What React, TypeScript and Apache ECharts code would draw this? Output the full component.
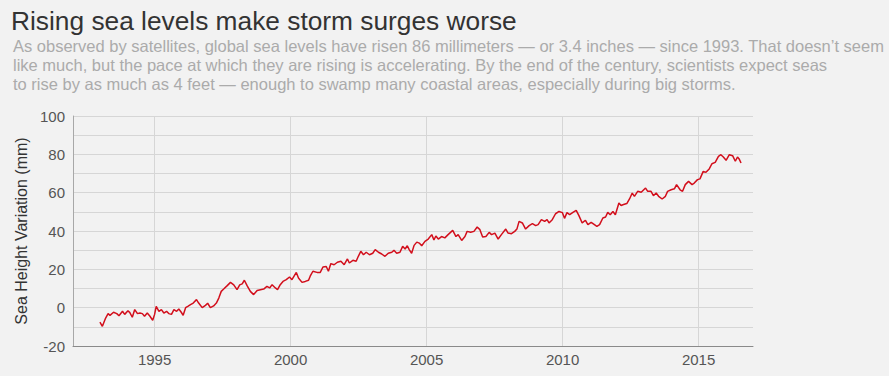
import React, { useEffect, useRef } from "react";
import * as echarts from "echarts";

const titleText = "Rising sea levels make storm surges worse";
const subtitleLines = [
  "As observed by satellites, global sea levels have risen 86 millimeters — or 3.4 inches — since 1993. That doesn’t seem",
  "like much, but the pace at which they are rising is accelerating. By the end of the century, scientists expect seas",
  "to rise by as much as 4 feet — enough to swamp many coastal areas, especially during big storms.",
];
const yAxisName = "Sea Height Variation (mm)";
const xTickYears = [1995, 2000, 2005, 2010, 2015];

const years = [
  1992.99, 1993.08, 1993.2, 1993.29, 1993.36, 1993.49, 1993.61, 1993.69, 1993.82, 1993.9,
  1994.02, 1994.09, 1994.18, 1994.27, 1994.37, 1994.46, 1994.55, 1994.63, 1994.73, 1994.83,
  1994.93, 1995.0, 1995.06, 1995.16, 1995.25, 1995.34, 1995.44, 1995.52, 1995.62, 1995.71,
  1995.81, 1995.89, 1995.98, 1996.05, 1996.14, 1996.22, 1996.32, 1996.42, 1996.54, 1996.62,
  1996.75, 1996.87, 1996.95, 1997.05, 1997.17, 1997.27, 1997.36, 1997.45, 1997.54, 1997.67,
  1997.79, 1997.91, 1998.03, 1998.13, 1998.22, 1998.3, 1998.4, 1998.52, 1998.64, 1998.77,
  1998.89, 1999.01, 1999.13, 1999.23, 1999.32, 1999.44, 1999.52, 1999.62, 1999.72, 1999.84,
  1999.96, 2000.05, 2000.21, 2000.29, 2000.42, 2000.54, 2000.66, 2000.72, 2000.82, 2000.97,
  2001.09, 2001.19, 2001.31, 2001.39, 2001.48, 2001.6, 2001.72, 2001.85, 2001.97, 2002.09,
  2002.16, 2002.29, 2002.41, 2002.49, 2002.58, 2002.68, 2002.78, 2002.9, 2003.02, 2003.11,
  2003.23, 2003.35, 2003.47, 2003.59, 2003.72, 2003.8, 2003.9, 2004.02, 2004.12, 2004.21,
  2004.29, 2004.36, 2004.45, 2004.54, 2004.64, 2004.73, 2004.82, 2004.94, 2005.06, 2005.19,
  2005.27, 2005.34, 2005.43, 2005.55, 2005.67, 2005.79, 2005.96, 2006.08, 2006.16, 2006.29,
  2006.41, 2006.49, 2006.62, 2006.74, 2006.86, 2006.96, 2007.06, 2007.18, 2007.3, 2007.39,
  2007.51, 2007.63, 2007.75, 2007.91, 2007.99, 2008.12, 2008.24, 2008.32, 2008.4, 2008.52,
  2008.64, 2008.77, 2008.89, 2009.01, 2009.1, 2009.22, 2009.34, 2009.43, 2009.5, 2009.62,
  2009.74, 2009.87, 2009.99, 2010.07, 2010.16, 2010.26, 2010.38, 2010.5, 2010.6, 2010.72,
  2010.84, 2010.93, 2011.05, 2011.17, 2011.26, 2011.36, 2011.48, 2011.58, 2011.66, 2011.75,
  2011.85, 2011.94, 2012.07, 2012.15, 2012.24, 2012.36, 2012.46, 2012.56, 2012.64, 2012.76,
  2012.89, 2013.05, 2013.13, 2013.25, 2013.34, 2013.44, 2013.53, 2013.66, 2013.78, 2013.86,
  2013.99, 2014.11, 2014.19, 2014.32, 2014.41, 2014.51, 2014.63, 2014.76, 2014.84, 2014.96,
  2015.05, 2015.17, 2015.27, 2015.39, 2015.49, 2015.61, 2015.73, 2015.82, 2015.91, 2016.01,
  2016.13, 2016.25, 2016.35, 2016.43, 2016.49, 2016.56,
];

const seaLevelMm = [
  -7.5, -9.7, -5.4, -3.1, -4.0, -2.4, -3.1, -4.2, -1.9, -3.5,
  -1.6, -2.6, -5.0, -1.0, -3.1, -2.8, -3.1, -4.5, -2.8, -4.5,
  -6.6, -3.5, 0.7, -1.9, -1.0, -2.8, -1.9, -3.1, -3.5, -1.0,
  -1.9, -0.7, -2.4, -4.0, 0.0, 0.7, 1.6, 2.4, 4.2, 2.4,
  0.0, 1.2, 2.3, 0.0, 0.9, 2.4, 5.0, 8.5, 9.7, 11.5,
  13.2, 11.9, 9.4, 11.9, 12.4, 14.3, 11.5, 8.5, 6.8, 9.0,
  9.4, 9.7, 11.1, 10.3, 12.0, 10.3, 9.4, 12.0, 13.7, 14.6,
  16.0, 14.6, 18.4, 15.5, 13.2, 13.7, 14.3, 16.4, 19.0, 18.4,
  18.4, 21.2, 21.5, 19.0, 23.0, 22.4, 23.7, 24.2, 22.4, 25.4,
  23.3, 24.7, 24.2, 26.8, 29.4, 27.6, 28.9, 27.6, 28.4, 30.3,
  28.9, 28.0, 26.8, 28.4, 28.9, 29.9, 28.4, 28.9, 32.0, 30.6,
  32.3, 30.3, 28.4, 32.5, 34.2, 33.7, 32.3, 34.6, 35.8, 38.1,
  35.3, 37.4, 35.8, 37.1, 36.4, 38.1, 40.3, 37.1, 38.1, 35.1,
  37.1, 39.8, 39.3, 39.8, 42.1, 40.7, 36.9, 37.1, 39.3, 38.1,
  38.9, 35.8, 38.1, 41.0, 39.0, 38.6, 39.8, 41.0, 45.0, 44.2,
  41.0, 42.8, 43.8, 42.8, 43.3, 45.9, 45.0, 45.9, 44.2, 45.9,
  49.0, 50.2, 49.6, 46.6, 49.6, 48.5, 49.7, 50.8, 48.0, 44.2,
  45.6, 43.3, 44.5, 43.3, 42.4, 43.3, 46.8, 47.3, 49.7, 48.5,
  50.2, 48.5, 54.6, 53.3, 53.8, 54.3, 56.7, 59.8, 58.1, 60.7,
  60.2, 62.4, 60.7, 60.7, 58.4, 59.8, 58.1, 56.7, 58.1, 60.7,
  61.5, 62.0, 64.2, 61.5, 60.7, 64.2, 65.9, 64.2, 65.0, 66.8,
  67.2, 71.1, 70.6, 72.4, 75.1, 75.8, 78.9, 79.8, 78.6, 76.9,
  79.8, 79.3, 76.4, 78.6, 77.6, 75.5,
];

const FONT = "'Liberation Sans', Arial, sans-serif";

export default function App() {
  const ref = useRef<HTMLDivElement>(null);

  useEffect(() => {
    document.body.style.margin = "0";
    document.body.style.background = "#f2f2f2";
    if (!ref.current) return;
    const chart = echarts.init(ref.current, undefined, { renderer: "svg" });
    const data = years.map((y, i) => [y, seaLevelMm[i]]);
    chart.setOption({
      animation: false,
      backgroundColor: "#f2f2f2",
      textStyle: { fontFamily: FONT },
      title: [
        {
          text: titleText,
          left: 6,
          top: 3,
          textStyle: {
            fontFamily: FONT,
            fontSize: 26.3,
            fontWeight: 300,
            color: "#333333",
          },
        },
        {
          text: subtitleLines.join("\n"),
          left: 8,
          top: 31,
          textStyle: {
            fontFamily: FONT,
            fontSize: 16.5,
            fontWeight: "normal",
            color: "#ababab",
            lineHeight: 19,
          },
        },
      ],
      grid: {
        left: 73,
        right: 136,
        top: 116,
        bottom: 30,
        containLabel: false,
      },
      xAxis: {
        type: "value",
        min: 1992,
        max: 2017,
        axisLine: { show: true, onZero: false, lineStyle: { color: "#8a8a8a", width: 1 } },
        axisTick: { show: false, customValues: xTickYears },
        axisLabel: {
          customValues: xTickYears,
          color: "#555555",
          fontSize: 15,
          fontFamily: FONT,
          margin: 6,
          formatter: (v: number) => String(v),
        },
        splitLine: { show: true, lineStyle: { color: "#d6d6d6", width: 1 } },
      },
      yAxis: {
        type: "value",
        min: -20,
        max: 100,
        interval: 10,
        name: yAxisName,
        nameLocation: "middle",
        nameGap: 43,
        nameTextStyle: { color: "#333333", fontSize: 16, fontFamily: FONT },
        axisLine: { show: true, lineStyle: { color: "#a8a8a8", width: 1 } },
        axisTick: { show: false },
        axisLabel: {
          color: "#555555",
          fontSize: 15,
          fontFamily: FONT,
          margin: 8,
          formatter: (v: number) => (v % 20 === 0 ? String(v) : ""),
        },
        splitLine: { show: true, lineStyle: { color: "#d6d6d6", width: 1 } },
      },
      series: [
        {
          type: "line",
          data,
          showSymbol: false,
          symbol: "none",
          lineStyle: { color: "#d20f1c", width: 1.5 },
          silent: true,
        },
      ],
    });
    return () => chart.dispose();
  }, []);

  return (
    <div
      style={{
        position: "fixed",
        left: 0,
        top: 0,
        width: 889,
        height: 376,
        background: "#f2f2f2",
      }}
    >
      <div ref={ref} style={{ width: 889, height: 376 }} />
    </div>
  );
}
